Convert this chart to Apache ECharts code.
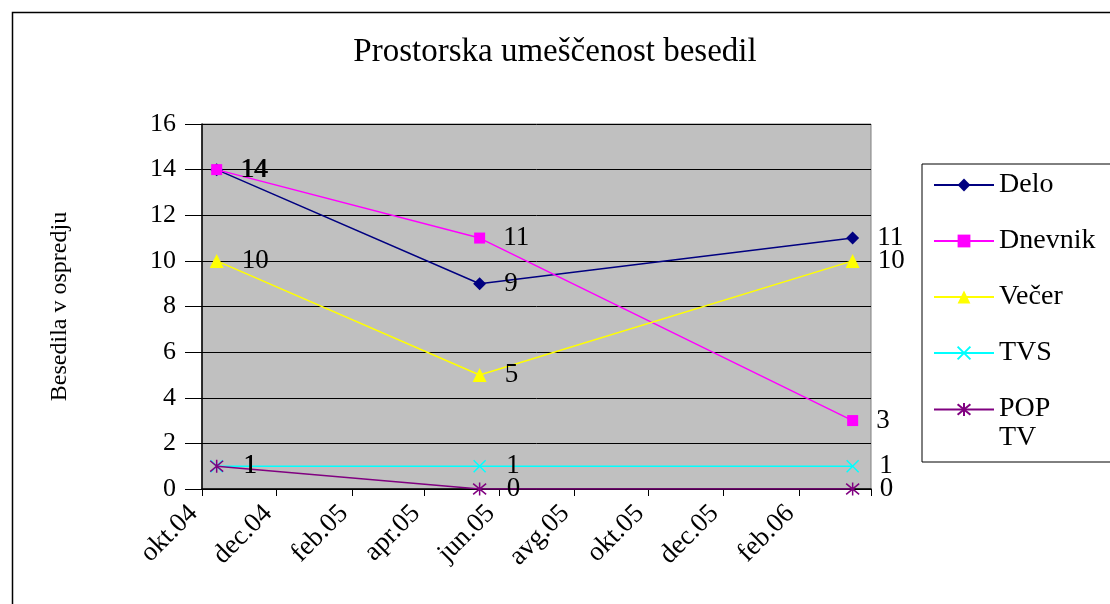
<!DOCTYPE html>
<html>
<head>
<meta charset="utf-8">
<script src="https://cdn.jsdelivr.net/npm/echarts@6/dist/echarts.min.js"></script>
<style>
  html, body { margin: 0; padding: 0; background: #fff; }
  #chart { width: 1110px; height: 604px; }
</style>
</head>
<body>
<div id="chart"></div>
<script>
// survey dates (x) and counts per outlet
const dates = ['2004-10-13', '2005-05-16', '2006-03-17']
const delo = [14, 9, 11]
const dnevnik = [14, 11, 3]
const vecer = [10, 5, 10]
const tvs = [1, 1, 1]
const popTv = [1, 0, 0]

// x axis ticks every two months
const tickDates = ['2004-10-01', '2004-12-01', '2005-02-01', '2005-04-01', '2005-06-01',
  '2005-08-01', '2005-10-01', '2005-12-01', '2006-02-01']
const tickLabels = ['okt.04', 'dec.04', 'feb.05', 'apr.05', 'jun.05',
  'avg.05', 'okt.05', 'dec.05', 'feb.06']
const axisEnd = '2006-04-01'

const yTicks = [0, 2, 4, 6, 8, 10, 12, 14, 16]

const serif = "'Liberation Serif', 'Times New Roman', serif"

// days since the first tick, so the x axis is a plain value axis
const dayMs = 24 * 3600 * 1000
const toDay = s => {
  const p = s.split('-').map(Number)
  const p0 = tickDates[0].split('-').map(Number)
  return Math.round((Date.UTC(p[0], p[1] - 1, p[2]) - Date.UTC(p0[0], p0[1] - 1, p0[2])) / dayMs)
}
const tickDays = tickDates.map(toDay)

const pairs = arr => dates.map((d, i) => [toDay(d), arr[i]])

const makeSeries = (name, data, color, symbol, size, extra) => Object.assign({
  name: name,
  type: 'line',
  data: pairs(data),
  symbol: symbol,
  symbolSize: size,
  lineStyle: { color: color, width: 1.5 },
  itemStyle: { color: color },
  label: {
    show: true,
    position: 'right',
    distance: 18,
    color: '#000',
    fontFamily: serif,
    fontSize: 27
  },
  emphasis: { disabled: true },
  animation: false
}, extra || {})

const chart = echarts.init(document.getElementById('chart'))

const option = {
  backgroundColor: '#fff',
  title: {
    text: 'Prostorska umeščenost besedil',
    left: 'center',
    top: 31,
    textStyle: { fontFamily: serif, fontSize: 33, fontWeight: 'normal', color: '#000' }
  },
  graphic: [{
    type: 'rect',
    left: 10,
    top: 10,
    shape: { width: 1200, height: 700 },
    style: { fill: 'none', stroke: '#000', lineWidth: 1.5 },
    silent: true
  }],
  legend: {
    orient: 'vertical',
    left: 922,
    top: 164,
    padding: [6, 30, 10, 11],
    itemWidth: 60,
    itemHeight: 16,
    itemGap: 26,
    backgroundColor: '#fff',
    borderColor: '#000',
    borderWidth: 1,
    borderRadius: 0,
    // second line of "POP TV" hangs below the symbol row
    formatter: n => n === 'POP TV' ? '{p|POP}\n{t|TV}' : n,
    textStyle: {
      fontFamily: serif,
      fontSize: 28,
      color: '#000',
      lineHeight: 30,
      rich: {
        p: { fontFamily: serif, fontSize: 28, lineHeight: 30 },
        t: { fontFamily: serif, fontSize: 28, lineHeight: 1, verticalAlign: 'top' }
      }
    },
    data: ['Delo', 'Dnevnik', 'Večer', 'TVS', 'POP TV']
  },
  grid: {
    left: 202,
    right: 239,
    top: 124,
    bottom: 115,
    show: true,
    backgroundColor: '#c0c0c0',
    borderColor: '#808080',
    borderWidth: 1,
    outerBoundsMode: 'none'
  },
  xAxis: {
    type: 'value',
    min: 0,
    max: toDay(axisEnd),
    axisLine: { show: true, onZero: false, lineStyle: { color: '#000', width: 1.5 } },
    axisTick: {
      show: true,
      inside: false,
      length: 7,
      lineStyle: { color: '#000' },
      customValues: tickDays.concat([toDay(axisEnd)])
    },
    axisLabel: {
      rotate: 45,
      margin: 12,
      padding: [0, 12, 0, 0],
      fontFamily: serif,
      fontSize: 27,
      color: '#000',
      customValues: tickDays,
      formatter: v => {
        const i = tickDays.indexOf(v)
        return i >= 0 ? tickLabels[i] : ''
      }
    },
    splitLine: { show: false }
  },
  yAxis: {
    type: 'value',
    min: yTicks[0],
    max: yTicks[yTicks.length - 1],
    interval: 2,
    name: 'Besedila v ospredju',
    nameLocation: 'middle',
    nameGap: 130,
    nameTextStyle: { fontFamily: serif, fontSize: 24, color: '#000' },
    axisLine: { show: true, lineStyle: { color: '#000', width: 1.5 } },
    axisTick: { show: true, inside: false, length: 17, lineStyle: { color: '#000' } },
    axisLabel: { margin: 26, fontFamily: serif, fontSize: 26, color: '#000' },
    splitLine: { show: true, lineStyle: { color: '#000', width: 1 } }
  },
  series: [
    makeSeries('Delo', delo, '#000080', 'diamond', 13),
    makeSeries('Dnevnik', dnevnik, '#ff00ff', 'rect', 11),
    makeSeries('Večer', vecer, '#ffff00', 'triangle', 14),
    makeSeries('TVS', tvs, '#00ffff', 'path://M0,0L10,10M10,0L0,10', 12, {
      itemStyle: { color: 'none', borderColor: '#00ffff', borderWidth: 1.5 }
    }),
    makeSeries('POP TV', popTv, '#800080', 'path://M0,0L10,10M10,0L0,10M5,-1L5,11', 13, {
      itemStyle: { color: 'none', borderColor: '#800080', borderWidth: 1.5 }
    })
  ]
}

chart.setOption(option)
</script>
</body>
</html>
